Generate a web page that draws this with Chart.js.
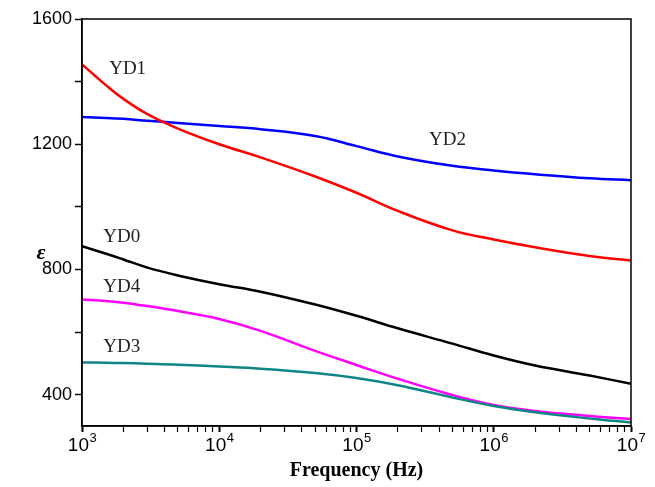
<!DOCTYPE html>
<html>
<head>
<meta charset="utf-8">
<script src="https://cdn.jsdelivr.net/npm/chart.js@4"></script>
<style>
  html, body { margin: 0; padding: 0; background: #fff; }
  #wrap { width: 655px; height: 487px; }
</style>
</head>
<body>
<div id="wrap"><canvas id="myChart" width="655" height="487"></canvas></div>
<script>
// frequencies (Hz)
var freq = [1e3, 1.5e3, 2e3, 3e3, 5e3, 1e4, 2e4, 5e4, 1e5, 2e5, 5e5, 1e6, 2e6, 5e6, 1e7];

// permittivity values
var yd0 = [874, 850, 832, 806, 781, 753, 729, 688, 652, 612, 563, 525, 493, 461, 435];
var yd1 = [1455, 1388, 1345, 1296, 1250, 1200, 1158, 1097, 1045, 987, 925, 896, 871, 843, 829];
var yd2 = [1287, 1284, 1281, 1275, 1268, 1258, 1248, 1226, 1194, 1161, 1131, 1116, 1104, 1091, 1085];
var yd3 = [503, 502, 501, 499, 496, 490, 483, 469, 453, 430, 391, 364, 344, 324, 311];
var yd4 = [704, 699, 694, 683, 667, 642, 604, 540, 495, 451, 399, 367, 348, 332, 322];

var yTicks = [400, 600, 800, 1000, 1200, 1400, 1600];
var yLabels = [400, 800, 1200, 1600];
var xDecades = [3, 4, 5, 6, 7];

// curve labels: [text, frequency, value]
var curveLabels = [
    ['YD1', 2150, 1440],
    ['YD2', 4.6e5, 1215],
    ['YD0', 1950, 905],
    ['YD4', 1950, 745],
    ['YD3', 1950, 553]
];

function pts(arr) {
    return freq.map(function(f, i) { return {x: f, y: arr[i]}; });
}

function series(label, arr, color) {
    return {
        label: label,
        data: pts(arr),
        borderColor: color,
        backgroundColor: color,
        borderWidth: 2.5,
        pointRadius: 0,
        tension: 0.4,
        fill: false
    };
}

var frame = {
    id: 'frame',
    afterDraw: function(chart) {
        var c = chart.ctx, a = chart.chartArea;
        var sx = chart.scales.x, sy = chart.scales.y;
        c.save();
        c.strokeStyle = '#000';
        c.lineWidth = 1.5;
        c.strokeRect(a.left, a.top, a.right - a.left, a.bottom - a.top);

        // curve names
        c.font = '19px "Liberation Serif"';
        c.fillStyle = '#222';
        c.textAlign = 'center';
        c.textBaseline = 'middle';
        curveLabels.forEach(function(l) {
            c.fillText(l[0], sx.getPixelForValue(l[1]), sy.getPixelForValue(l[2]));
        });

        // x tick labels as 10 with superscript exponent
        c.fillStyle = '#000';
        c.textBaseline = 'alphabetic';
        c.textAlign = 'left';
        xDecades.forEach(function(e) {
            var px = sx.getPixelForValue(Math.pow(10, e));
            c.font = '19px "Liberation Sans"';
            var w1 = c.measureText('10').width;
            c.font = '13px "Liberation Sans"';
            var w2 = c.measureText(String(e)).width;
            var x0 = px - (w1 + w2) / 2;
            c.font = '19px "Liberation Sans"';
            c.fillText('10', x0, a.bottom + 25);
            c.font = '13px "Liberation Sans"';
            c.fillText(String(e), x0 + w1 + 0.5, a.bottom + 16);
        });

        // y axis title, upright
        c.font = 'italic bold 22px "Liberation Serif"';
        c.textAlign = 'center';
        c.textBaseline = 'middle';
        c.fillText('\u03B5', 41, sy.getPixelForValue(850));
        c.restore();
    }
};

var ctx = document.getElementById('myChart').getContext('2d');
var myChart = new Chart(ctx, {
    type: 'line',
    data: {
        datasets: [
            series('YD0', yd0, '#000000'),
            series('YD1', yd1, '#ff0000'),
            series('YD2', yd2, '#0000ff'),
            series('YD3', yd3, '#108585'),
            series('YD4', yd4, '#ff00ff')
        ]
    },
    options: {
        responsive: false,
        animation: false,
        layout: { padding: { left: 0, right: 24, top: 19, bottom: 0 } },
        plugins: { legend: { display: false }, tooltip: { enabled: false } },
        scales: {
            x: {
                type: 'logarithmic',
                min: 1e3,
                max: 1e7,
                afterBuildTicks: function(scale) {
                    var t = [];
                    for (var e = 3; e <= 7; e++) {
                        for (var m = 1; m <= 9; m++) {
                            var v = m * Math.pow(10, e);
                            if (v > 1e7) break;
                            t.push({value: v, major: m === 1});
                        }
                    }
                    scale.ticks = t;
                },
                afterFit: function(scale) { scale.height = 61; },
                ticks: {
                    autoSkip: false,
                    maxRotation: 0,
                    callback: function() { return ''; }
                },
                grid: {
                    drawOnChartArea: false,
                    drawTicks: true,
                    tickLength: 6,
                    tickColor: '#000',
                    tickWidth: function(c) { return c.tick && c.tick.major ? 2 : 1.2; }
                },
                border: { display: true, color: '#000', width: 1.5 },
                title: {
                    display: true,
                    text: 'Frequency (Hz)',
                    color: '#000',
                    padding: { top: 0 },
                    font: { family: '"Liberation Serif"', size: 20, weight: 'bold' }
                }
            },
            y: {
                min: 300,
                max: 1600,
                afterBuildTicks: function(scale) {
                    scale.ticks = yTicks.map(function(v) { return {value: v}; });
                },
                afterFit: function(scale) { scale.width = 82; },
                ticks: {
                    padding: 3,
                    color: '#000',
                    font: { family: '"Liberation Sans"', size: 18 },
                    callback: function(value) {
                        return yLabels.indexOf(value) >= 0 ? String(value) : '';
                    }
                },
                grid: { drawOnChartArea: false, drawTicks: true, tickLength: 7, tickColor: '#000', tickWidth: 1.5 },
                border: { display: true, color: '#000', width: 1.5 },
                title: { display: false }
            }
        }
    },
    plugins: [frame]
});
</script>
</body>
</html>
